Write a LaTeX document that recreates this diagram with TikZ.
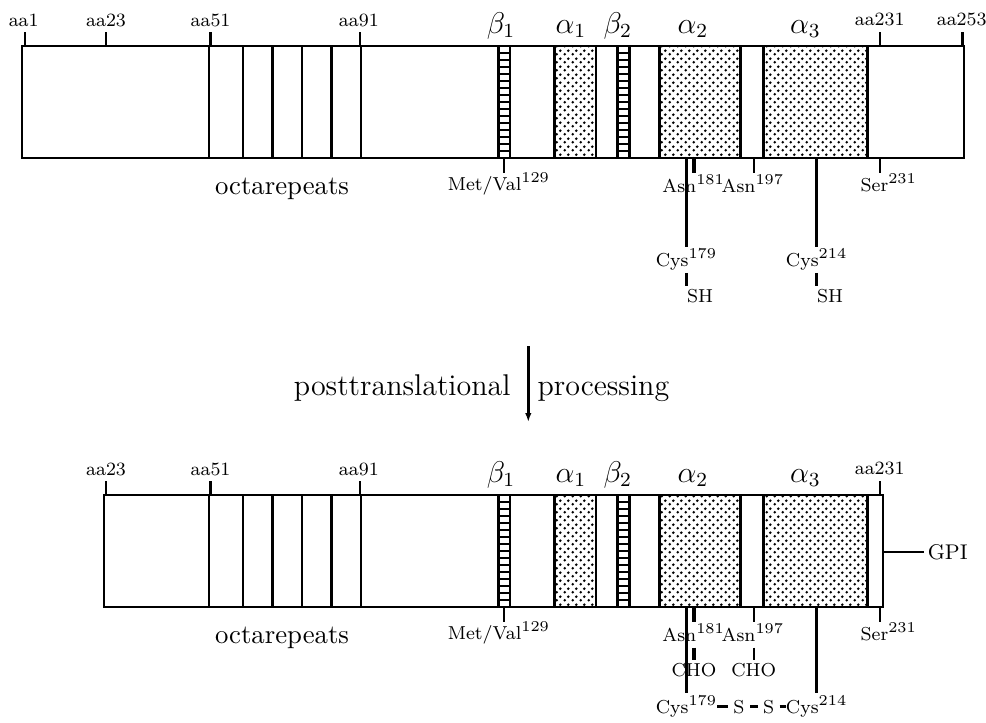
\documentclass[tikz,border=0pt]{standalone}
\usetikzlibrary{patterns,arrows.meta}
\DeclareMathSizes{7.5}{7.5}{6}{5}
\pgfdeclarepatternformonly{bigdots}{\pgfpointorigin}{\pgfpoint{3pt}{3pt}}{\pgfpoint{3pt}{3pt}}{%
  \pgfpathcircle{\pgfpoint{0.75pt}{0.75pt}}{0.6pt}%
  \pgfpathcircle{\pgfpoint{2.25pt}{2.25pt}}{0.6pt}%
  \pgfusepath{fill}}
\begin{document}
\begin{tikzpicture}[x=0.4pt,y=-0.4pt,
  outline/.style={line width=1.1pt},
  rule/.style={line width=1pt},
  helix/.style={draw,line width=1.1pt,pattern=bigdots},
  strand/.style={draw,line width=1.1pt},
  rung/.style={line width=1.1pt},
  small/.style={font=\fontsize{7.5}{9}\selectfont,inner sep=0pt,outer sep=0pt,anchor=base},
  greek/.style={font=\fontsize{11.5}{14}\selectfont,inner sep=0pt,anchor=base},
  big/.style={font=\fontsize{10.7}{13}\selectfont,inner sep=0pt,anchor=base},
  huge/.style={font=\fontsize{12}{14}\selectfont,inner sep=0pt},
]
\useasboundingbox (0,0) rectangle (986,722);

% ---------- common parts of both chains ----------
\foreach \o/\s in {0/t,449/b} {
 \begin{scope}[shift={(0,\o)}]
  % octarepeats
  \foreach \x in {209,243,272.5,302,331.5,361} \draw[rule] (\x,46) -- (\x,158);
  % beta strands
  \foreach \xa/\xb in {498.5/510,617.7/629.3} {
    \draw[strand] (\xa,46) rectangle (\xb,158);
    \foreach \k in {1,...,15} \draw[rung] (\xa,46+7*\k) -- (\xb,46+7*\k);
  }
  % alpha helices
  \draw[helix] (554.7,46) rectangle (596,158);
  \draw[helix] (659.5,46) rectangle (740.7,158);
  \draw[helix] (763.3,46) rectangle (867.7,158);
  % ticks above
  \foreach \x in {106,210.5,360,880} \draw[rule] (\x,32) -- (\x,46);
  % ticks below
  \foreach \x in {504,754,880} \draw[rule] (\x,158) -- (\x,173);
  \draw[line width=1.3pt] (694,158) -- (694,173);
  % labels
  \node[greek] (beta1\s) at (501,33) {$\beta_1$};
  \node[greek] (alpha1\s) at (571,33) {$\alpha_1$};
  \node[greek] (beta2\s) at (617.8,33) {$\beta_2$};
  \node[greek] (alpha2\s) at (693,33) {$\alpha_2$};
  \node[greek] (alpha3\s) at (805.5,33) {$\alpha_3$};
  \node[small] (aa23\s) at (106,26) {aa23};
  \node[small] (aa51\s) at (210.5,26) {aa51};
  \node[small] (aa91\s) at (358.8,26) {aa91};
  \node[small] (aa231\s) at (879.7,25.5) {aa231};
  \node[small] (met\s) at (499,190) {Met/Val$^{129}$};
  \node[small] (asnA\s) at (693.7,192) {Asn$^{181}$};
  \node[small] (asnB\s) at (753,192) {Asn$^{197}$};
  \node[small] (ser\s) at (888.8,191.5) {Ser$^{231}$};
  \node[big] (octa\s) at (282,194) {octarepeats};
 \end{scope}
}

% ---------- top chain ----------
\draw[outline] (22,46) rectangle (964,158);
\draw[rule] (25,32) -- (25,46);
\draw[rule] (962.7,32) -- (962.7,46);
\node[small] (aa1) at (23.7,26) {aa1};
\node[small] (aa253) at (961.7,25.5) {aa253};
\coordinate (tB) at (0,158);
\node[small,outer sep=1pt] (cysAt) at (686.5,266.5) {Cys$^{179}$};
\node[small,outer sep=1pt] (cysBt) at (816.7,266.5) {Cys$^{214}$};
\node[small,anchor=base west,outer sep=1.2pt] (shAt) at (684,302) {SH};
\node[small,anchor=base west,outer sep=1.2pt] (shBt) at (814,302) {SH};
\draw[rule] (cysAt.north |- tB) -- (cysAt.north);
\draw[rule] (cysBt.north |- tB) -- (cysBt.north);
\draw[rule] (cysAt.south) -- (cysAt.south |- shAt.north);
\draw[rule] (cysBt.south) -- (cysBt.south |- shBt.north);

% ---------- processing arrow ----------
\coordinate (arrTop) at (528.3,346);
\coordinate (arrBot) at (528.3,422);
\draw[rule,-{Latex[length=3.6pt,width=2.6pt]}] (arrTop) -- (arrBot);
\node[huge,anchor=base east] (post) at (511,395) {posttranslational};
\node[huge,anchor=base west] (proc) at (537,395) {processing};

% ---------- bottom chain ----------
\draw[outline] (104,495) rectangle (883,607);
\coordinate (bB) at (0,607);
\coordinate (bR) at (883,551);
\node[font=\fontsize{8.5}{10}\selectfont,inner sep=0pt,anchor=base west,outer sep=1.5pt] (gpi) at (924,559) {GPI};
\draw[rule] (bR |- gpi.west) -- (gpi.west);
\node[small] (choA) at (694,676.7) {CHO};
\node[small] (choB) at (753.7,676.7) {CHO};
\draw[line width=1.3pt,shorten <=2.6pt,shorten >=1.6pt] (asnAb.south -| 694,0) -- (choA.north -| 694,0);
\draw[rule,shorten <=2.6pt,shorten >=1.6pt] (asnBb.south -| 754,0) -- (choB.north -| 754,0);
\node[small] (cysAb) at (686.5,713) {Cys$^{179}$};
\node[small,outer sep=2.2pt] (s1) at (739,713) {S};
\node[small,outer sep=2.2pt] (s2) at (768.7,713) {S};
\node[small] (cysBb) at (816.7,713) {Cys$^{214}$};
\draw[rule,shorten >=1pt] (cysAb.north |- bB) -- (cysAb.north);
\draw[rule,shorten >=1pt] (cysBb.north |- bB) -- (cysBb.north);
\draw[rule] (s1.west) -- (s1.west -| cysAb.east);
\draw[rule] (s1.east) -- (s2.west);
\draw[rule] (s2.east) -- (s2.east -| cysBb.west);
\end{tikzpicture}
\end{document}
